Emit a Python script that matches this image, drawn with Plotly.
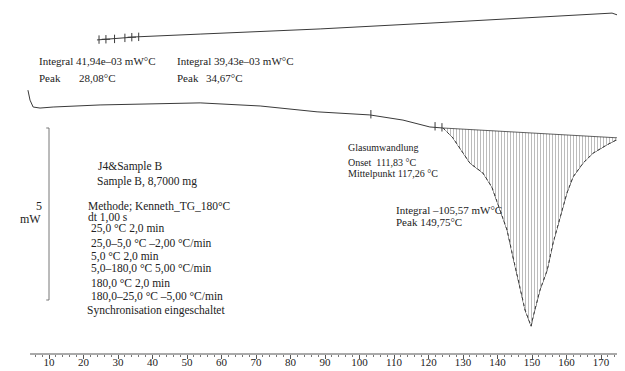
import plotly.graph_objects as go

# ---------------- data (temperature in °C, heat flow in mW) ----------------
upper_T = [23.9, 35.5, 53.8, 88.6, 126.2, 158.1, 169.7, 173.2, 175.5, 177.0]
upper_mW = [7.56, 7.65, 7.73, 7.88, 8.08, 8.26, 8.34, 8.34, 8.26, 8.14]

lower_T = [3.9, 4.5, 5.4, 7.4, 11.2, 24.8, 53.8, 71.2, 87.7, 103.0, 112.6, 120.4,
           124.2, 127.1, 132.0, 135.8, 138.4, 140.7, 142.8, 144.5, 146.5, 148.0,
           149.75, 150.3, 152.3, 154.4, 156.1, 158.1, 160.1, 161.9, 164.8, 167.7,
           171.7, 175.5, 177.0]
lower_mW = [6.10, 5.81, 5.61, 5.58, 5.61, 5.67, 5.73, 5.64, 5.47, 5.38, 5.23, 5.03,
            5.00, 4.71, 3.98, 3.69, 3.28, 2.62, 2.03, 1.25, 0.38, -0.29,
            -0.76, -0.49, 0.29, 0.87, 1.66, 2.41, 3.11, 3.58, 3.98, 4.27,
            4.51, 4.71, 4.83]

# integration limits / baseline of the melting peak
base_T = [124.2, 175.5]
base_mW = [5.00, 4.71]

# evaluation markers
upper_mark_T = [24.5, 26.5, 29.0, 32.0, 34.0, 36.0]
upper_mark_mW = [7.57, 7.58, 7.59, 7.62, 7.64, 7.65]
upper_mark_sym = ["line-ns", "cross-thin", "line-ns", "line-ns", "cross-thin", "line-ns"]
glass_mark_T = [103.3, 121.9, 123.9]
glass_mark_mW = [5.40, 5.05, 5.02]

scale_T = [9.2, 10.0, 10.0, 9.2]
scale_mW = [5.0, 5.0, 0.0, 0.0]

tick_major = list(range(10, 171, 10))
tick_labels = [str(v) for v in tick_major]
tick_minor = list(range(6, 177, 2))

LINE = "#3a3a3a"
TXT = "#222222"
FONT = "Liberation Serif"

W, H = 625, 371
OFF = 8  # default page margin of the html body

fig = go.Figure()
fig.add_trace(go.Scatter(x=upper_T, y=upper_mW, mode="lines",
                         line=dict(color=LINE, width=1), hoverinfo="skip"))
fig.add_trace(go.Scatter(x=lower_T, y=lower_mW, mode="lines",
                         line=dict(color=LINE, width=1), hoverinfo="skip"))
# hatched peak area
fig.add_trace(go.Scatter(x=base_T, y=base_mW, mode="lines",
                         line=dict(color=LINE, width=0.8), hoverinfo="skip"))
peak_T = [t for t in lower_T if base_T[0] <= t <= base_T[1]]
peak_mW = [m for t, m in zip(lower_T, lower_mW) if base_T[0] <= t <= base_T[1]]
fig.add_trace(go.Scatter(x=peak_T, y=peak_mW, mode="lines", fill="tonexty",
                         fillcolor="rgba(255,255,255,0)",
                         fillpattern=dict(shape="|", size=3, solidity=0.3,
                                          fgcolor="#6a6a6a", bgcolor="white"),
                         line=dict(color=LINE, width=1, dash="dot"), hoverinfo="skip"))
fig.add_trace(go.Scatter(x=upper_mark_T, y=upper_mark_mW, mode="markers",
                         marker=dict(symbol=upper_mark_sym, size=6,
                                     line=dict(color=LINE, width=1)), hoverinfo="skip"))
fig.add_trace(go.Scatter(x=glass_mark_T, y=glass_mark_mW, mode="markers",
                         marker=dict(symbol="line-ns", size=6,
                                     line=dict(color=LINE, width=1)), hoverinfo="skip"))
fig.add_trace(go.Scatter(x=scale_T, y=scale_mW, mode="lines",
                         line=dict(color="#777777", width=1), hoverinfo="skip"))
# carrier trace for the tick-mark axis
fig.add_trace(go.Scatter(x=[None], y=[None], xaxis="x2", yaxis="y",
                         mode="lines", hoverinfo="skip"))


def px2paper(px, py):
    return (px - OFF) / W, 1 - (py - OFF) / H


def txt(s, px, py, anchor="left", size=11):
    x, y = px2paper(px, py)
    fig.add_annotation(text=s, x=x, y=y, xref="paper", yref="paper",
                       xanchor=anchor, yanchor="middle", showarrow=False,
                       font=dict(family=FONT, size=size, color=TXT))


txt("Integral 41,94e\u201303 mW\u00b0C", 37, 61)
txt("Peak", 37, 78)
txt("28,08\u00b0C", 77, 78)
txt("Integral 39,43e\u201303 mW\u00b0C", 175, 61)
txt("Peak", 175, 78)
txt("34,67\u00b0C", 204, 78)

txt("Glasumwandlung", 346, 147, size=10)
txt("Onset\u00a0\u00a0111,83 \u00b0C", 346, 162, size=10)
txt("Mittelpunkt 117,26 \u00b0C", 346, 173, size=10)
txt("Integral \u2013105,57 mW\u00b0C", 394, 210, size=11)
txt("Peak 149,75\u00b0C", 394, 222, size=11)

block = [
    ("J4&Sample B", 96, 166),
    ("Sample B, 8,7000 mg", 95, 182),
    ("Methode; Kenneth_TG_180\u00b0C", 86, 206),
    ("dt 1,00 s", 86, 217),
    ("25,0 \u00b0C 2,0 min", 89, 229),
    ("25,0\u20135,0 \u00b0C \u20132,00 \u00b0C/min", 89, 243),
    ("5,0 \u00b0C 2,0 min", 89, 256),
    ("5,0\u2013180,0 \u00b0C 5,00 \u00b0C/min", 89, 268),
    ("180,0 \u00b0C 2,0 min", 89, 283),
    ("180,0\u201325,0 \u00b0C \u20135,00 \u00b0C/min", 89, 296),
    ("Synchronisation eingeschaltet", 85, 310),
]
for s, px, py in block:
    txt(s, px, py, size=11.5)

txt("5", 44, 206, anchor="right", size=12)
txt("mW", 43, 219, anchor="right", size=12)

# axis geometry (reference pixels -> data units)
PX_PER_DEG, PX_AT_10 = 3.45, 49
PX_PER_MW, PY_AT_0 = 34.4, 300
x_lo = 10 + (OFF - PX_AT_10) / PX_PER_DEG
x_hi = 10 + (OFF + W - PX_AT_10) / PX_PER_DEG
y_hi = (PY_AT_0 - OFF) / PX_PER_MW
y_lo = (PY_AT_0 - OFF - H) / PX_PER_MW

axis_pos = 1 - (354 - OFF) / H
fig.add_shape(type="line", xref="x", yref="paper", x0=4.5, x1=x_hi,
              y0=axis_pos, y1=axis_pos, line=dict(color="#555555", width=1))

fig.update_layout(
    width=W, height=H, margin=dict(l=0, r=0, t=0, b=0),
    paper_bgcolor="white", plot_bgcolor="white", showlegend=False,
    xaxis=dict(range=[x_lo, x_hi], anchor="free", position=axis_pos,
               showgrid=False, zeroline=False, showline=False,
               tickmode="array", tickvals=tick_major, ticktext=tick_labels,
               ticks="", tickfont=dict(family=FONT, size=11, color=TXT)),
    xaxis2=dict(range=[x_lo, x_hi], matches="x", overlaying="x", anchor="free",
                position=axis_pos, side="bottom",
                showgrid=False, zeroline=False, showline=False,
                showticklabels=False,
                tickmode="array", tickvals=tick_major,
                ticks="outside", ticklen=4, tickcolor="#555555",
                minor=dict(tickmode="array", tickvals=tick_minor, ticks="outside",
                           ticklen=2, tickcolor="#777777")),
    yaxis=dict(range=[y_lo, y_hi], visible=False),
)

fig.write_html("out.html")
